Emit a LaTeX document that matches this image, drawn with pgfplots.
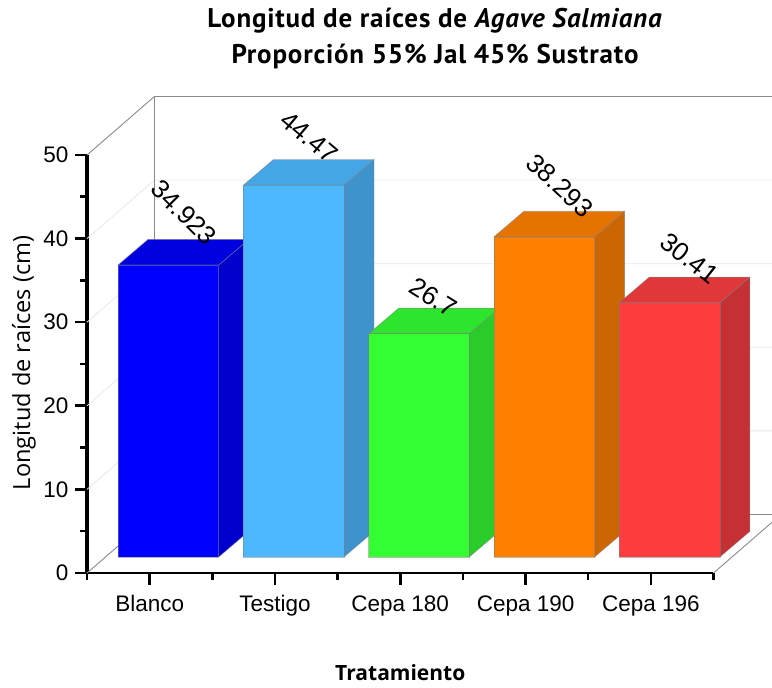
\documentclass[border=0pt]{standalone}
\usepackage{fontspec}
\setmainfont{Liberation Sans}
\newfontfamily\titlefont[LetterSpace=3]{PT Sans}
\newfontfamily\labelfont{Open Sans}
\usepackage{pgfplots}
\pgfplotsset{compat=1.18}
\definecolor{wallgray}{HTML}{8A8A8A}
\definecolor{gridgray}{HTML}{E8E8E8}
\definecolor{edgegray}{HTML}{808080}
\definecolor{blanF}{HTML}{0000FF}\definecolor{blanS}{HTML}{0000CC}\definecolor{blanT}{HTML}{0000E0}
\definecolor{testF}{HTML}{4DB8FF}\definecolor{testS}{HTML}{3E93CC}\definecolor{testT}{HTML}{45A5E5}
\definecolor{c180F}{HTML}{33FF33}\definecolor{c180S}{HTML}{29CC29}\definecolor{c180T}{HTML}{2EE52E}
\definecolor{c190F}{HTML}{FF8000}\definecolor{c190S}{HTML}{CC6600}\definecolor{c190T}{HTML}{E57300}
\definecolor{c196F}{HTML}{FF3D40}\definecolor{c196S}{HTML}{C43033}\definecolor{c196T}{HTML}{E03739}
\tikzset{face/.style={fill=#1, draw=edgegray, draw opacity=0.55, line width=0.7pt, xshift=18.7pt, yshift=16pt}}
\begin{document}
\begin{tikzpicture}
\path[use as bounding box, clip] (0pt,0pt) rectangle (772pt,688pt);
\begin{axis}[
  at={(87pt,115pt)}, anchor=south west,
  scale only axis, width=626.5pt, height=418pt,
  xmin=-0.5, xmax=4.5, ymin=0, ymax=50,
  clip=false,
  axis x line=bottom, axis y line=left,
  axis line style={-, line width=3.2pt, black},
  x axis line style={line width=2.8pt},
  xtick={0,1,2,3,4},
  xticklabels={Blanco,Testigo,Cepa 180,Cepa 190,Cepa 196},
  minor xtick={-0.5,0.5,1.5,2.5,3.5,4.5},
  ytick={0,10,20,30,40,50},
  minor ytick={5,15,25,35,45},
  tick align=outside,
  major tick length=12pt, minor tick length=7pt,
  every tick/.append style={line width=2.6pt, black},
  every minor tick/.append style={line width=2.6pt, black},
  tick label style={font=\fontsize{22.5}{25}\selectfont},
  /pgf/number format/assume math mode=true,
  xticklabel style={yshift=-7pt},
  yticklabel style={xshift=-3pt},
  title={Longitud de raíces de \textit{Agave Salmiana}\\Proporción 55\% Jal 45\% Sustrato},
  title style={at={(axis description cs:0.5555,1.2633)}, anchor=center, align=center,
    font=\titlefont\bfseries\fontsize{27}{36}\selectfont},
  xlabel={Tratamiento},
  xlabel style={at={(axis description cs:0.5,-0.239)}, anchor=center,
    font=\labelfont\bfseries\fontsize{21}{24}\selectfont},
  ylabel={Longitud de raíces (cm)},
  ylabel style={at={(axis description cs:-0.1006,0.5024)}, anchor=center,
    font=\labelfont\fontsize{23.6}{26}\selectfont},
]
% back wall grid
\addplot[gridgray, line width=0.8pt, forget plot] coordinates {(-0.5,10)(0.0387,17)(5.0387,17)};
\addplot[gridgray, line width=0.8pt, forget plot] coordinates {(-0.5,20)(0.0387,27)(5.0387,27)};
\addplot[gridgray, line width=0.8pt, forget plot] coordinates {(-0.5,30)(0.0387,37)(5.0387,37)};
\addplot[gridgray, line width=0.8pt, forget plot] coordinates {(-0.5,40)(0.0387,47)(5.0387,47)};
% walls
\addplot[wallgray, line width=0.9pt, forget plot] coordinates {(-0.5,50)(0.0387,57)(5.0387,57)};
\addplot[wallgray, line width=0.9pt, forget plot] coordinates {(0.0387,57)(0.0387,7)};
\addplot[wallgray, line width=0.9pt, forget plot] coordinates {(-0.5,0)(0.0387,7)(5.0387,7)(4.5,0)};
% Blanco
\addplot[face=blanS, forget plot] coordinates {(0.4014,0)(0.4014,34.923)(0.6408,37.985)(0.6408,3.062)} --cycle;
\addplot[face=blanT, forget plot] coordinates {(-0.4014,34.923)(0.4014,34.923)(0.6408,37.985)(-0.1620,37.985)} --cycle;
\addplot[ybar, bar width=100.6pt, face=blanF, forget plot] coordinates {(0,34.923)};
% Testigo
\addplot[face=testS, forget plot] coordinates {(1.4014,0)(1.4014,44.47)(1.6408,47.532)(1.6408,3.062)} --cycle;
\addplot[face=testT, forget plot] coordinates {(0.5986,44.47)(1.4014,44.47)(1.6408,47.532)(0.8380,47.532)} --cycle;
\addplot[ybar, bar width=100.6pt, face=testF, forget plot] coordinates {(1,44.47)};
% Cepa 180
\addplot[face=c180S, forget plot] coordinates {(2.4014,0)(2.4014,26.7)(2.6408,29.762)(2.6408,3.062)} --cycle;
\addplot[face=c180T, forget plot] coordinates {(1.5986,26.7)(2.4014,26.7)(2.6408,29.762)(1.8380,29.762)} --cycle;
\addplot[ybar, bar width=100.6pt, face=c180F, forget plot] coordinates {(2,26.7)};
% Cepa 190
\addplot[face=c190S, forget plot] coordinates {(3.4014,0)(3.4014,38.293)(3.6408,41.355)(3.6408,3.062)} --cycle;
\addplot[face=c190T, forget plot] coordinates {(2.5986,38.293)(3.4014,38.293)(3.6408,41.355)(2.8380,41.355)} --cycle;
\addplot[ybar, bar width=100.6pt, face=c190F, forget plot] coordinates {(3,38.293)};
% Cepa 196
\addplot[face=c196S, forget plot] coordinates {(4.4014,0)(4.4014,30.41)(4.6408,33.472)(4.6408,3.062)} --cycle;
\addplot[face=c196T, forget plot] coordinates {(3.5986,30.41)(4.4014,30.41)(4.6408,33.472)(3.8380,33.472)} --cycle;
\addplot[ybar, bar width=100.6pt, face=c196F, forget plot] coordinates {(4,30.41)};
% value labels
\pgfplotsset{lab/.style n args={3}{only marks, mark=none, forget plot, xshift=18.7pt, yshift=16pt,
  nodes near coords, point meta=explicit symbolic,
  every node near coord/.style={font=\fontsize{26}{28}\selectfont, rotate=#3, anchor=center, xshift=#1, yshift=#2}}}
\addplot[lab={-26pt}{48pt}{-45}] coordinates {(0,34.923)[34.923]};
\addplot[lab={-18.8pt}{46.6pt}{-40}] coordinates {(1,44.47)[44.47]};
\addplot[lab={-7.3pt}{38.6pt}{-32}] coordinates {(2,26.7)[26.7]};
\addplot[lab={-23.4pt}{48.2pt}{-43}] coordinates {(3,38.293)[38.293]};
\addplot[lab={-11.4pt}{47.2pt}{-38}] coordinates {(4,30.41)[30.41]};
\end{axis}
\end{tikzpicture}
\end{document}
